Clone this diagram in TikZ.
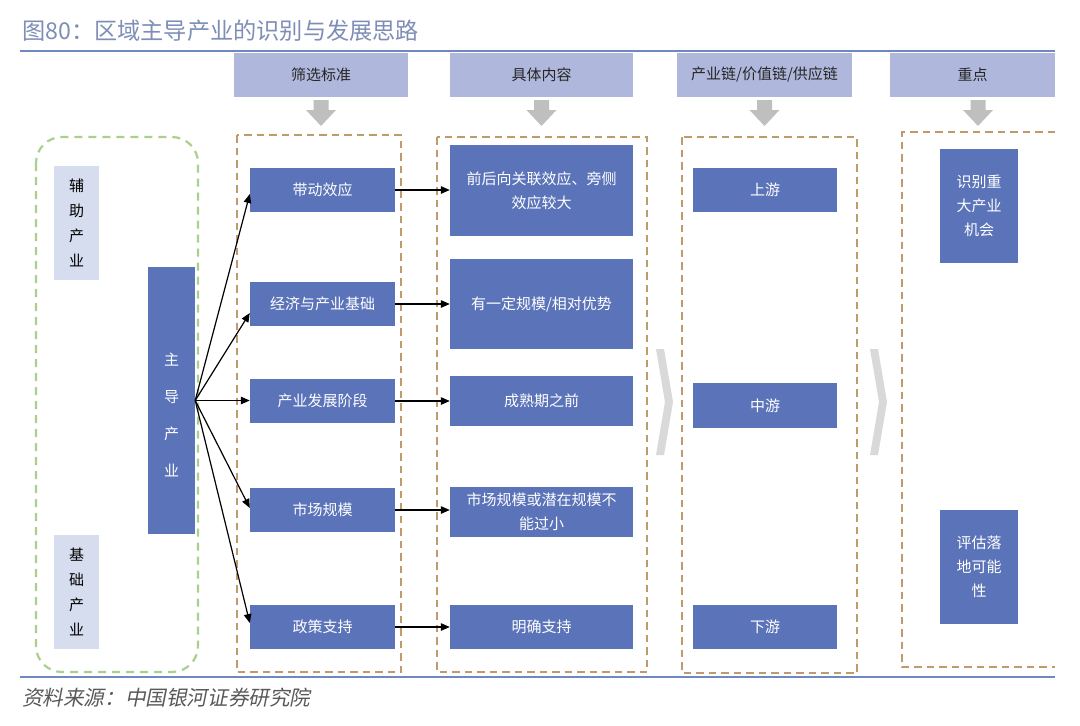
\documentclass[tikz,border=0pt]{standalone}
\usepackage{fontspec}
\setmainfont{Noto Sans CJK SC}
\newfontfamily\cjkit[FakeSlant=0.2]{Noto Sans CJK SC}
\usetikzlibrary{arrows.meta}
\definecolor{boxblue}{RGB}{91,115,185}
\definecolor{headfill}{RGB}{175,184,220}
\definecolor{sidefill}{RGB}{214,221,238}
\definecolor{tan}{RGB}{191,155,108}
\definecolor{lgreen}{RGB}{169,208,142}
\definecolor{arrgray}{RGB}{191,191,191}
\definecolor{chevgray}{RGB}{217,217,217}
\definecolor{rule}{RGB}{111,137,192}
\definecolor{titlecol}{RGB}{126,142,182}
\definecolor{srccol}{RGB}{89,89,89}
\tikzset{
  bluebox/.style={fill=boxblue, text=white, inner sep=0pt, align=center,
    font=\fontsize{15}{24}\selectfont},
  headbox/.style={fill=headfill, text=black!85, inner sep=0pt, minimum height=44pt,
    font=\fontsize{15}{18}\selectfont},
  sidebox/.style={fill=sidefill, text=black, inner sep=0pt, align=center,
    minimum width=45pt, minimum height=114pt, font=\fontsize{15}{25}\selectfont},
  frame/.style={draw=tan, line width=2.2pt, dash pattern=on 7.5pt off 5pt},
  gframe/.style={draw=lgreen, line width=2.2pt, dash pattern=on 8pt off 6pt, rounded corners=26pt},
  arr/.style={draw=black, line width=1.2pt, -{Triangle[length=9pt,width=7.5pt]}},
  pics/downarr/.style={code={
    \fill[arrgray] (-7.5,4) -- (7.5,4) -- (7.5,14) -- (15,14) -- (0,30) -- (-15,14) -- (-7.5,14) -- cycle;}},
  chev/.style={fill=chevgray}
}
\begin{document}
\begin{tikzpicture}[x=1pt,y=-1pt]
\useasboundingbox[fill=white] (0,0) rectangle (1080,726);

% title and rules
\node[anchor=base west, inner sep=0pt, text=titlecol, font=\fontsize{23.2}{26}\selectfont] (title) at (22,39.5) {图80：区域主导产业的识别与发展思路};
\draw[rule, line width=2pt] (20,51) -- (1055,51);
\draw[rule, line width=2pt] (20,677) -- (1055,677);
\node[anchor=base west, inner sep=0pt, text=srccol, font=\cjkit\fontsize{20.6}{24}\selectfont] (src) at (22,705.5) {资料来源：中国银河证券研究院};

% headers
\node[headbox, minimum width=174pt] (h1) at (321,74.5) {筛选标准};
\node[headbox, minimum width=183pt] (h2) at (541.5,74.5) {具体内容};
\node[headbox, minimum width=175pt] (h3) at (764.5,74.5) {产业链/价值链/供应链};
\node[headbox, minimum width=165pt] (h4) at (972.5,74.5) {重点};
\pic at (321,96) {downarr};
\pic at (541.5,96) {downarr};
\pic at (764.5,96) {downarr};
\pic at (978,96) {downarr};

% frames
\draw[gframe] (36,137) rectangle (198,672);
\draw[frame] (237,135) rectangle (401,672);
\draw[frame] (437,137) rectangle (647,672);
\draw[frame] (682,137) rectangle (857,673);
\draw[frame] (1055,132) -- (902,132) -- (902,667) -- (1055,667);

% chevrons
\fill[chev] (656,349) -- (664,349) -- (673,402) -- (664,455) -- (656,455) -- (665,402) -- cycle;
\fill[chev] (870,349) -- (878,349) -- (887,402) -- (878,455) -- (870,455) -- (879,402) -- cycle;

% left side
\node[sidebox] (s1) at (76.5,223) {辅\\助\\产\\业};
\node[sidebox] (s2) at (76.5,592) {基\\础\\产\\业};
\node[bluebox, minimum width=47pt, minimum height=267pt, font=\fontsize{15}{37}\selectfont] (m) at (171.5,400.5) {\rule{0pt}{14pt}\\[-10pt]主\\导\\产\\业};

% column 1
\node[bluebox, minimum width=145pt, minimum height=44pt] (a1) at (322.5,190) {带动效应};
\node[bluebox, minimum width=145pt, minimum height=44pt] (a2) at (322.5,304) {经济与产业基础};
\node[bluebox, minimum width=145pt, minimum height=44pt] (a3) at (322.5,401) {产业发展阶段};
\node[bluebox, minimum width=145pt, minimum height=44pt] (a4) at (322.5,510) {市场规模};
\node[bluebox, minimum width=145pt, minimum height=44pt] (a5) at (322.5,627) {政策支持};

% column 2
\node[bluebox, minimum width=183pt, minimum height=91pt] (b1) at (541.5,190.5) {前后向关联效应、旁侧\\效应较大};
\node[bluebox, minimum width=183pt, minimum height=90pt] (b2) at (541.5,304) {有一定规模/相对优势};
\node[bluebox, minimum width=183pt, minimum height=50pt] (b3) at (541.5,401) {成熟期之前};
\node[bluebox, minimum width=183pt, minimum height=50pt] (b4) at (541.5,512) {市场规模或潜在规模不\\能过小};
\node[bluebox, minimum width=183pt, minimum height=44pt] (b5) at (541.5,627) {明确支持};

% column 3
\node[bluebox, minimum width=144pt, minimum height=44pt] (c1) at (765,190) {上游};
\node[bluebox, minimum width=144pt, minimum height=45pt] (c2) at (765,405.5) {中游};
\node[bluebox, minimum width=144pt, minimum height=44pt] (c3) at (765,627) {下游};

% column 4
\node[bluebox, minimum width=78pt, minimum height=114pt] (d1) at (979,206) {识别重\\大产业\\机会};
\node[bluebox, minimum width=78pt, minimum height=114pt] (d2) at (979,567) {评估落\\地可能\\性};

% arrows from main industry
\draw[arr] (m.east) -- ([yshift=-4pt]a1.west);
\draw[arr] (m.east) -- ([yshift=-9pt]a2.west);
\draw[arr] (m.east) -- (m.east -| a3.west);
\draw[arr] (m.east) -- ([yshift=2pt]a4.west);
\draw[arr] (m.east) -- ([yshift=4pt]a5.west);

% arrows column 1 -> column 2
\draw[arr] (a1.east) -- (a1.east -| b1.west);
\draw[arr] (a2.east) -- (a2.east -| b2.west);
\draw[arr] (a3.east) -- (a3.east -| b3.west);
\draw[arr] (a4.east) -- (a4.east -| b4.west);
\draw[arr] (a5.east) -- (a5.east -| b5.west);
\end{tikzpicture}
\end{document}
